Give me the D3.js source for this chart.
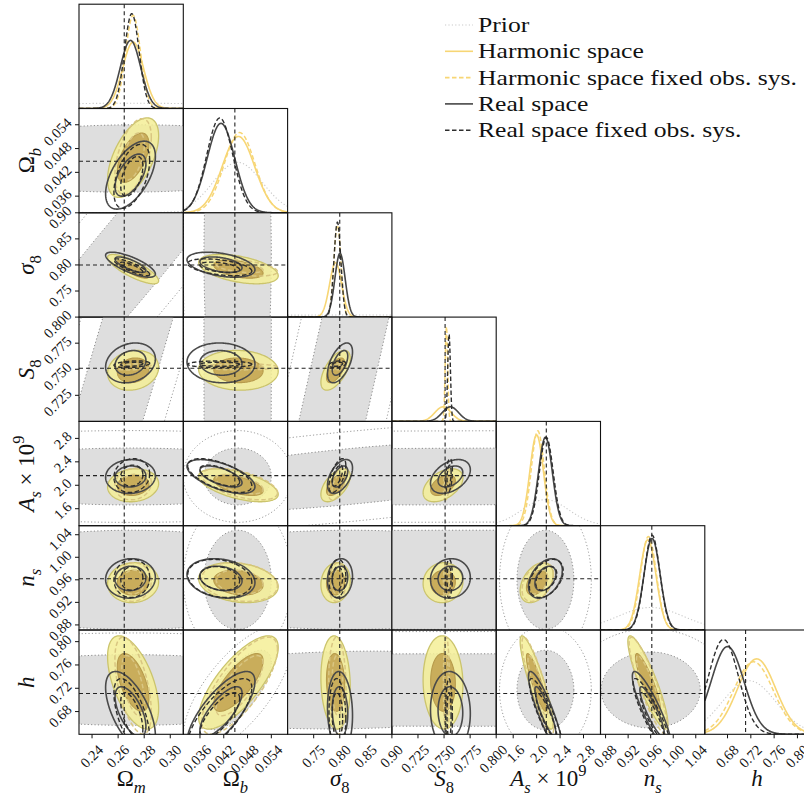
<!DOCTYPE html>
<html><head><meta charset="utf-8">
<script src="https://cdn.jsdelivr.net/npm/d3@7"></script>
<style>
body{margin:0;background:#fff}
svg{display:block}
text{font-family:"Liberation Serif","DejaVu Serif",serif;fill:#111}
</style>
</head><body>
<svg id="chart" width="804" height="801"></svg>
<script>
// ---- parameters, axis ranges, fiducial values, ticks ----
const paramKeys = ["Om", "Ob", "s8", "S8", "As", "ns", "h"];
const domains = [[0.23, 0.31], [0.0318, 0.0581], [0.70, 0.90], [0.70, 0.80], [1.31, 3.09], [0.871, 1.056], [0.641, 0.820]];
const truths = [0.2647, 0.0448, 0.80, 0.751, 2.165, 0.962, 0.711];
const tickValues = [
  [0.24, 0.26, 0.28, 0.30],
  [0.036, 0.042, 0.048, 0.054],
  [0.75, 0.80, 0.85, 0.90],
  [0.725, 0.750, 0.775, 0.800],
  [1.6, 2.0, 2.4, 2.8],
  [0.88, 0.92, 0.96, 1.00, 1.04],
  [0.68, 0.72, 0.76, 0.80]
];
const tickFormats = [".2f", ".3f", ".2f", ".3f", ".1f", ".2f", ".2f"];

// ---- posterior summaries (mean, standard deviation) per parameter ----
const harmonicMean = [0.2715, 0.0457, 0.792, 0.749, 2.00, 0.955, 0.730];
const harmonicSigma = [0.0080, 0.0041, 0.0115, 0.0078, 0.115, 0.0145, 0.0327];
const harmonicFixedMean = [0.2715, 0.0460, 0.7955, 0.7523, 2.02, 0.956, 0.7245];
const harmonicFixedSigma = [0.0057, 0.0039, 0.0068, 0.0012, 0.110, 0.0140, 0.034];
const realMean = [0.2695, 0.0413, 0.8005, 0.7561, 2.15, 0.9625, 0.680];
const realSigma = [0.0078, 0.0035, 0.0098, 0.0078, 0.118, 0.0143, 0.0281];
const realFixedMean = [0.2705, 0.0410, 0.7955, 0.7548, 2.165, 0.9625, 0.673];
const realFixedSigma = [0.0056, 0.0033, 0.0066, 0.0013, 0.118, 0.0138, 0.026];

// parameter pairs (column, row) of the lower triangle
const pairs = [[0,1],[0,2],[1,2],[0,3],[1,3],[2,3],[0,4],[1,4],[2,4],[3,4],[0,5],[1,5],[2,5],[3,5],[4,5],[0,6],[1,6],[2,6],[3,6],[4,6],[5,6]];
// correlation coefficients for each pair
const harmonicCorr =      [0.55, -0.80, -0.45, 0.15, -0.05, 0.60, 0.10, -0.55, 0.55, 0.45, 0.05, -0.20, 0.10, 0.05, 0.40, -0.55, 0.75, -0.10, -0.05, -0.88, -0.88];
const harmonicFixedCorr = [0.50, -0.85, -0.50, 0.30, 0.00, 0.30, 0.10, -0.55, 0.60, 0.30, 0.05, -0.20, 0.10, 0.05, 0.40, -0.55, 0.75, -0.10, -0.05, -0.88, -0.88];
const realCorr =          [0.55, -0.75, -0.40, 0.20, -0.05, 0.55, 0.05, -0.60, 0.50, 0.40, 0.05, -0.20, 0.10, 0.05, 0.40, -0.60, 0.75, -0.10, -0.05, -0.88, -0.88];
const realFixedCorr =     [0.50, -0.85, -0.45, 0.30, 0.00, 0.30, 0.10, -0.60, 0.60, 0.30, 0.05, -0.20, 0.10, 0.05, 0.40, -0.60, 0.75, -0.10, -0.05, -0.88, -0.88];

// prior: centre and 1D width per parameter, and per-pair widths + correlation
const priorMean = [0.27, 0.0455, 0.82, 0.777, 2.15, 0.96, 0.717];
const priorSigma = [0.10, 0.0062, 0.30, 0.66, 0.40, 0.058, 0.046];
const priorPairSx = [0.10, 0.10, 0.0056, 0.10, 0.0056, 0.30, 0.10, 0.0056, 0.30, 0.66, 0.10, 0.0056, 0.30, 0.66, 0.32, 0.10, 0.0056, 0.30, 0.66, 0.32, 0.058];
const priorPairSy = [0.0056, 0.30, 0.30, 0.42, 0.66, 0.66, 0.32, 0.32, 0.405, 0.32, 0.058, 0.058, 0.058, 0.058, 0.058, 0.040, 0.045, 0.044, 0.041, 0.045, 0.043];
const priorPairRho = [0.03, 0.97, 0.0, 0.984, 0.0, 0.99, 0.0, 0.0, 0.63, 0.10, 0.0, 0.0, 0.0, 0.0, 0.0, 0.0, 0.70, 0.10, 0.0, 0.0, 0.0];

// legend entries
const legendLabels = ["Prior", "Harmonic space", "Harmonic space fixed obs. sys.", "Real space", "Real space fixed obs. sys."];

// axis labels (pieces of math text)
const axisLabels = [
  [{t: "Ω"}, {t: "m", it: 1, sub: 1}],
  [{t: "Ω"}, {t: "b", it: 1, sub: 1}],
  [{t: "σ", it: 1}, {t: "8", sub: 1}],
  [{t: "S", it: 1}, {t: "8", sub: 1}],
  [{t: "A", it: 1}, {t: "s", it: 1, sub: 1}, {t: " × 10"}, {t: "9", sup: 1}],
  [{t: "n", it: 1}, {t: "s", it: 1, sub: 1}],
  [{t: "h", it: 1}]
];

// ---- styles ----
const series = [
  {mean: harmonicMean, sigma: harmonicSigma, corr: harmonicCorr, kind: "filled", line: "#f7d675", dash: null, lw: 1.6},
  {mean: harmonicFixedMean, sigma: harmonicFixedSigma, corr: harmonicFixedCorr, kind: "line", line: "#f7d675", c2d: "#d9c682", dash: "4.5,2.5", lw: 1.5},
  {mean: realMean, sigma: realSigma, corr: realCorr, kind: "line", line: "#474747", c2d: "#4a4a4a", dash: null, lw: 1.6},
  {mean: realFixedMean, sigma: realFixedSigma, corr: realFixedCorr, kind: "line", line: "#2e2e2e", c2d: "#2e2e2e", dash: "4.5,2.5", lw: 1.4}
];

const R68 = Math.sqrt(2.30), R95 = Math.sqrt(5.99);
const L0 = 79, T0 = 4.2, S = 104.3, N = paramKeys.length;

const svg = d3.select("#chart");
const defs = svg.append("defs");
const xs = domains.map(d => d3.scaleLinear().domain(d).range([0, S]));
const ys = domains.map(d => d3.scaleLinear().domain(d).range([S, 0]));

function ellipsePts(mx, my, sx, sy, rho, r) {
  const k = Math.sqrt(Math.max(0, 1 - rho * rho));
  return d3.range(0, 361, 2).map(a => {
    const t = a * Math.PI / 180;
    return [mx + sx * r * Math.cos(t), my + sy * r * (rho * Math.cos(t) + k * Math.sin(t))];
  });
}
function pdf(x, m, s) { return Math.exp(-0.5 * ((x - m) / s) ** 2) / (s * Math.sqrt(2 * Math.PI)); }

function panel(r, c) {
  const g = svg.append("g").attr("transform", `translate(${L0 + c * S},${T0 + r * S})`);
  const id = `clip-${r}-${c}`;
  defs.append("clipPath").attr("id", id).append("rect").attr("width", S).attr("height", S);
  const inner = g.append("g").attr("clip-path", `url(#${id})`);
  return {g, inner};
}

// ---- diagonal panels: 1D marginals ----
for (let i = 0; i < N; i++) {
  const {g, inner} = panel(i, i);
  const x = xs[i];
  const xsamp = d3.range(0, 301).map(k => domains[i][0] + (domains[i][1] - domains[i][0]) * k / 300);
  const curves = [{m: priorMean[i], s: priorSigma[i], color: "#c9c9c9", dash: "1.2,2.2", lw: 1.1}]
    .concat(series.map(d => ({m: d.mean[i], s: d.sigma[i], color: d.line, dash: d.dash, lw: d.lw})));
  const peak = d3.max(curves, d => 1 / (d.s * Math.sqrt(2 * Math.PI)));
  const y = d3.scaleLinear().domain([0, peak * 1.1]).range([S, 0]);
  curves.forEach(cv => {
    inner.append("path")
      .datum(xsamp)
      .attr("d", d3.line().x(v => x(v)).y(v => y(pdf(v, cv.m, cv.s))))
      .attr("fill", "none").attr("stroke", cv.color).attr("stroke-width", cv.lw)
      .attr("stroke-dasharray", cv.dash);
  });
  inner.append("line").attr("x1", x(truths[i])).attr("x2", x(truths[i])).attr("y1", 0).attr("y2", S)
    .attr("stroke", "#222").attr("stroke-width", 1.1).attr("stroke-dasharray", "4,3");
  g.append("rect").attr("width", S).attr("height", S).attr("fill", "none").attr("stroke", "#111").attr("stroke-width", 1.1);
}

// ---- off-diagonal panels: 2D contours ----
pairs.forEach(([c, r], k) => {
  const {g, inner} = panel(r, c);
  const path = d3.line().x(d => xs[c](d[0])).y(d => ys[r](d[1])).curve(d3.curveLinearClosed);
  // prior
  const p95 = ellipsePts(priorMean[c], priorMean[r], priorPairSx[k], priorPairSy[k], priorPairRho[k], R95);
  const p68 = ellipsePts(priorMean[c], priorMean[r], priorPairSx[k], priorPairSy[k], priorPairRho[k], R68);
  inner.append("path").attr("d", path(p95)).attr("fill", "none").attr("stroke", "#9a9a9a")
    .attr("stroke-width", 1).attr("stroke-dasharray", "1.2,2.2");
  inner.append("path").attr("d", path(p68)).attr("fill", "#dedede").attr("stroke", "#8a8a8a")
    .attr("stroke-width", 1).attr("stroke-dasharray", "1.2,2.2");
  series.forEach(d => {
    const e95 = ellipsePts(d.mean[c], d.mean[r], d.sigma[c], d.sigma[r], d.corr[k], R95);
    const e68 = ellipsePts(d.mean[c], d.mean[r], d.sigma[c], d.sigma[r], d.corr[k], R68);
    if (d.kind === "filled") {
      inner.append("path").attr("d", path(e95)).attr("fill", "#f5ee96").attr("fill-opacity", 0.85)
        .attr("stroke", "#cbc46c").attr("stroke-width", 1.3);
      inner.append("path").attr("d", path(e68)).attr("fill", "#c2a24f").attr("fill-opacity", 0.85)
        .attr("stroke", "#b79b4c").attr("stroke-width", 1.1);
    } else {
      [e95, e68].forEach(e => inner.append("path").attr("d", path(e)).attr("fill", "none")
        .attr("stroke", d.c2d).attr("stroke-width", d.lw).attr("stroke-dasharray", d.dash));
    }
  });
  inner.append("line").attr("x1", xs[c](truths[c])).attr("x2", xs[c](truths[c])).attr("y1", 0).attr("y2", S)
    .attr("stroke", "#222").attr("stroke-width", 1.1).attr("stroke-dasharray", "4,3");
  inner.append("line").attr("y1", ys[r](truths[r])).attr("y2", ys[r](truths[r])).attr("x1", 0).attr("x2", S)
    .attr("stroke", "#222").attr("stroke-width", 1.1).attr("stroke-dasharray", "4,3");
  g.append("rect").attr("width", S).attr("height", S).attr("fill", "none").attr("stroke", "#111").attr("stroke-width", 1.1);
});

// ---- axes on the bottom row and the left column ----
for (let c = 0; c < N; c++) {
  const g = svg.append("g").attr("transform", `translate(${L0 + c * S},${T0 + N * S})`);
  const fmt = d3.format(tickFormats[c]);
  tickValues[c].forEach(v => {
    const px = xs[c](v);
    g.append("line").attr("x1", px).attr("x2", px).attr("y1", 0).attr("y2", 4).attr("stroke", "#111").attr("stroke-width", 1);
    g.append("text").attr("transform", `translate(${px + 8.5},${13}) rotate(-45)`)
      .attr("text-anchor", "end").attr("dy", "0.35em").attr("font-size", 14.5).text(fmt(v));
  });
}
for (let r = 1; r < N; r++) {
  const g = svg.append("g").attr("transform", `translate(${L0},${T0 + r * S})`);
  const fmt = d3.format(tickFormats[r]);
  tickValues[r].forEach(v => {
    const py = ys[r](v);
    g.append("line").attr("x1", -4).attr("x2", 0).attr("y1", py).attr("y2", py).attr("stroke", "#111").attr("stroke-width", 1);
    g.append("text").attr("transform", `translate(${-10},${py - 4.5}) rotate(-45)`)
      .attr("text-anchor", "end").attr("dy", "0.35em").attr("font-size", 14.5).text(fmt(v));
  });
}

function mathText(sel, parts, size) {
  const t = sel.append("text").attr("font-size", size);
  let shift = 0;
  parts.forEach(p => {
    const ts = t.append("tspan").text(p.t);
    if (p.it) ts.attr("font-style", "italic");
    let target = 0;
    if (p.sub) target = 0.3 * size;
    if (p.sup) target = -0.42 * size;
    if (target !== shift) { ts.attr("dy", target - shift); shift = target; }
    if (p.sub || p.sup) ts.attr("font-size", size * 0.72);
  });
  return t;
}
for (let c = 0; c < N; c++) {
  mathText(svg, axisLabels[c], 23).attr("x", L0 + c * S + S / 2).attr("y", 786).attr("text-anchor", "middle");
}
for (let r = 1; r < N; r++) {
  mathText(svg, axisLabels[r], 23).attr("text-anchor", "middle")
    .attr("transform", `translate(34,${T0 + r * S + S / 2}) rotate(-90)`);
}

// ---- legend ----
const legendStyles = [
  {color: "#c9c9c9", dash: "1.2,2.2", lw: 1.1},
  {color: "#f7d675", dash: null, lw: 1.6},
  {color: "#f7d675", dash: "4.5,2.5", lw: 1.6},
  {color: "#474747", dash: null, lw: 1.6},
  {color: "#2e2e2e", dash: "4.5,2.5", lw: 1.4}
];
const lg = svg.append("g");
legendLabels.forEach((lab, i) => {
  const yb = 32 + i * 26.3;
  lg.append("line").attr("x1", 445).attr("x2", 473).attr("y1", yb - 7).attr("y2", yb - 7)
    .attr("stroke", legendStyles[i].color).attr("stroke-width", legendStyles[i].lw)
    .attr("stroke-dasharray", legendStyles[i].dash);
  const t = lg.append("text").attr("x", 478).attr("y", yb).attr("font-size", 22).text(lab);
  // widen the glyphs a little for a book-style face
  const w = t.node().getComputedTextLength();
  t.attr("textLength", w * 1.165).attr("lengthAdjust", "spacingAndGlyphs");
});
</script>
</body></html>
